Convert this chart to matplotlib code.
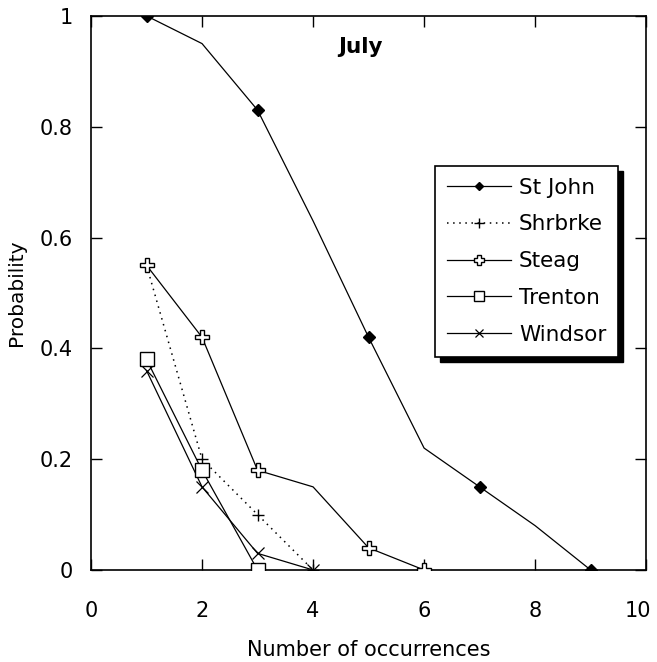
import matplotlib
matplotlib.use("Agg")
import matplotlib.pyplot as plt
from matplotlib.patches import Rectangle
from matplotlib.transforms import IdentityTransform, ScaledTranslation

plt.rcParams['font.family'] = ['DejaVu Sans']

# Data
stjohn_x = [1, 2, 3, 4, 5, 6, 7, 8, 9]
stjohn_y = [1.0, 0.95, 0.83, 0.63, 0.42, 0.22, 0.15, 0.08, 0.0]
shrbrke_x = [1, 2, 3, 4]
shrbrke_y = [0.55, 0.20, 0.10, 0.0]
steag_x = [1, 2, 3, 4, 5, 6]
steag_y = [0.55, 0.42, 0.18, 0.15, 0.04, 0.0]
trenton_x = [1, 2, 3]
trenton_y = [0.38, 0.18, 0.0]
windsor_x = [1, 2, 3, 4]
windsor_y = [0.36, 0.15, 0.03, 0.0]

x_ticks = [0, 2, 4, 6, 8, 10]
y_ticks = [0, 0.2, 0.4, 0.6, 0.8, 1]
y_tick_labels = ['0', '0.2', '0.4', '0.6', '0.8', '1']

fig = plt.figure(figsize=(6.57, 6.62), dpi=100)
ax = fig.add_axes([0.1385, 0.139, 0.845, 0.837])

lw = 0.9
ax.plot(stjohn_x, stjohn_y, color='black', lw=lw, marker='D', ms=6,
        mfc='black', mec='black', markevery=[0, 2, 4, 6, 8], label='St John', zorder=3)
ax.plot(shrbrke_x, shrbrke_y, color='black', lw=1.1, ls=(0, (1, 3)), marker='+', ms=9,
        mew=1, markevery=[1, 2, 3], label='Shrbrke', zorder=3)
ax.plot(steag_x, steag_y, color='black', lw=lw, marker='P', ms=10, mfc='white',
        mec='black', mew=1, markevery=[0, 1, 2, 4, 5], label='Steag', zorder=4)
ax.plot(trenton_x, trenton_y, color='black', lw=lw, marker='s', ms=10, mfc='white',
        mec='black', mew=1, label='Trenton', zorder=4)
ax.plot(windsor_x, windsor_y, color='black', lw=lw, marker='x', ms=8, mew=0.9,
        label='Windsor', zorder=3)

ax.set_xlim(0, 10)
ax.set_ylim(0, 1)
ax.set_xticks(x_ticks)
ax.set_yticks(y_ticks)
ax.set_yticklabels(y_tick_labels)
ax.tick_params(direction='in', length=8, width=1, top=True, right=True,
               labelsize=15, pad=13)
ax.tick_params(axis='x', pad=22)
for s in ax.spines.values():
    s.set_linewidth(1.2)

# nudge the last x tick label left so it stays inside the figure
lbl = ax.get_xticklabels()[-1]
lbl.set_transform(lbl.get_transform() + ScaledTranslation(-8 / 100, 0, fig.dpi_scale_trans))

ax.set_xlabel('Number of occurrences', fontsize=15, labelpad=14)
ax.set_ylabel('Probability', fontsize=14.5, labelpad=10)
ax.text(4.86, 0.944, 'July', fontsize=15.5, fontweight='bold', ha='center', va='center')

leg = ax.legend(loc='upper left', bbox_to_anchor=(0.60, 0.749), fontsize=15.5,
                frameon=True, fancybox=False, edgecolor='black', facecolor='white',
                framealpha=1, handlelength=3, labelspacing=0.78, markerscale=0.75,
                borderpad=0.55, handletextpad=0.35)
leg.get_frame().set_linewidth(1.2)
leg.set_zorder(10)

fig.canvas.draw()
bb = leg.get_window_extent()
off = 5
shadow = Rectangle((bb.x0 + off, bb.y0 - off), bb.width, bb.height,
                   transform=IdentityTransform(), facecolor='black',
                   edgecolor='black', zorder=9, clip_on=False)
ax.add_artist(shadow)

fig.savefig('out.png', dpi=100)
